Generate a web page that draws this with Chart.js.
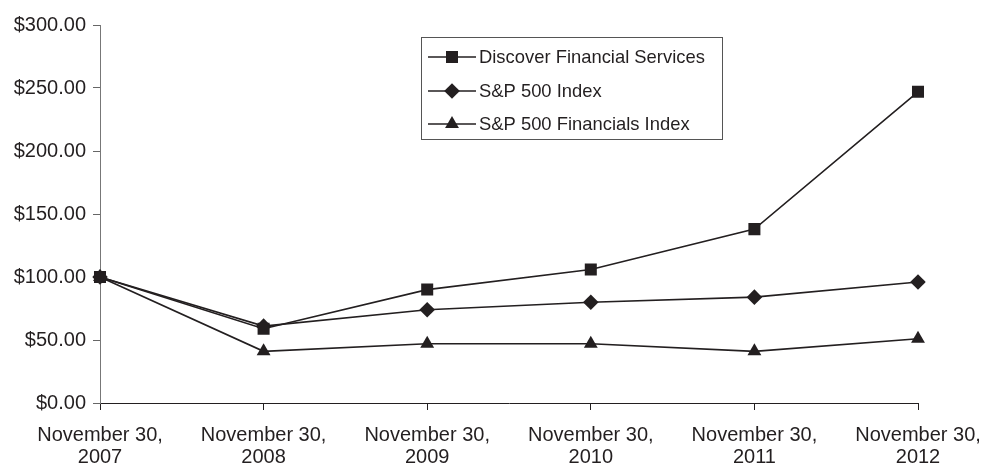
<!DOCTYPE html>
<html>
<head>
<meta charset="utf-8">
<script src="https://cdn.jsdelivr.net/npm/chart.js@4.4.1/dist/chart.umd.min.js"></script>
<style>
html,body{margin:0;padding:0;background:#fff;}
#wrap{width:981px;height:466px;position:relative;}
</style>
</head>
<body>
<div id="wrap"><canvas id="c" width="981" height="466"></canvas></div>
<script>
const categories = [
  ["November 30,", "2007"],
  ["November 30,", "2008"],
  ["November 30,", "2009"],
  ["November 30,", "2010"],
  ["November 30,", "2011"],
  ["November 30,", "2012"]
];
const discoverValues = [100, 59, 90, 106, 138, 247];
const sp500Values = [100, 61, 74, 80, 84, 96];
const spFinancialsValues = [100, 41, 47, 47, 41, 51];
const seriesNames = ["Discover Financial Services", "S&P 500 Index", "S&P 500 Financials Index"];
const yTicks = [0, 50, 100, 150, 200, 250, 300];

const INK = '#231f20';
const FONT = '"Liberation Sans", Arial, sans-serif';

function ds(label, data, style, radius) {
  return {
    label, data,
    borderColor: INK, backgroundColor: INK,
    borderWidth: 1.6,
    pointStyle: style, pointRadius: radius, pointHoverRadius: radius,
    pointBackgroundColor: INK, pointBorderColor: INK, pointBorderWidth: 0,
    tension: 0, fill: false
  };
}

const legendBox = {
  id: 'legendBox',
  afterDraw(chart) {
    const ctx = chart.ctx;
    const x0 = 421, y0 = 37, w = 301, h = 102;
    ctx.save();
    ctx.strokeStyle = '#555';
    ctx.lineWidth = 1;
    ctx.strokeRect(x0 + 0.5, y0 + 0.5, w, h);
    const rows = [57, 91, 124];
    chart.data.datasets.forEach((d, i) => {
      const y = rows[i];
      ctx.strokeStyle = INK;
      ctx.lineWidth = 1.6;
      ctx.beginPath();
      ctx.moveTo(428, y); ctx.lineTo(476, y);
      ctx.stroke();
      ctx.fillStyle = INK;
      Chart.helpers.drawPoint(ctx, {pointStyle: d.pointStyle, radius: d.pointRadius, borderWidth: 0}, 452, y);
      ctx.fillStyle = INK;
      ctx.font = '18.4px ' + FONT;
      ctx.textBaseline = 'middle';
      ctx.textAlign = 'left';
      ctx.fillText(d.label, 479, y + 1);
    });
    ctx.restore();
  }
};

new Chart(document.getElementById('c'), {
  type: 'line',
  data: {
    labels: categories,
    datasets: [
      ds(seriesNames[0], discoverValues, 'rect', 8.5),
      ds(seriesNames[1], sp500Values, 'rectRot', 7.8),
      ds(seriesNames[2], spFinancialsValues, 'triangle', 8)
    ]
  },
  options: {
    responsive: false,
    animation: false,
    devicePixelRatio: 1,
    layout: { padding: { top: 25, right: 63, left: 0, bottom: 0 } },
    plugins: { legend: { display: false }, tooltip: { enabled: false } },
    scales: {
      x: {
        offset: false,
        grid: { display: true, drawOnChartArea: false, drawTicks: true, tickLength: 7, color: INK, lineWidth: 1 },
        border: { display: true, color: INK, width: 1 },
        ticks: { color: INK, font: { family: FONT, size: 20, lineHeight: 1.12 }, padding: 14, maxRotation: 0, autoSkip: false },
        afterFit(s) { s.height = 63; s.paddingRight = 0; s.paddingLeft = 0; }
      },
      y: {
        min: 0, max: 300,
        afterBuildTicks(s) { s.ticks = yTicks.map(v => ({ value: v })); },
        grid: { display: true, drawOnChartArea: false, drawTicks: true, tickLength: 7, color: '#666', lineWidth: 1 },
        border: { display: true, color: '#777', width: 1 },
        ticks: { color: INK, font: { family: FONT, size: 20 }, padding: 7, callback: v => '$' + Number(v).toFixed(2) },
        afterFit(s) { s.width = 100; s.paddingTop = 0; s.paddingBottom = 0; }
      }
    }
  },
  plugins: [legendBox]
});
</script>
</body>
</html>
